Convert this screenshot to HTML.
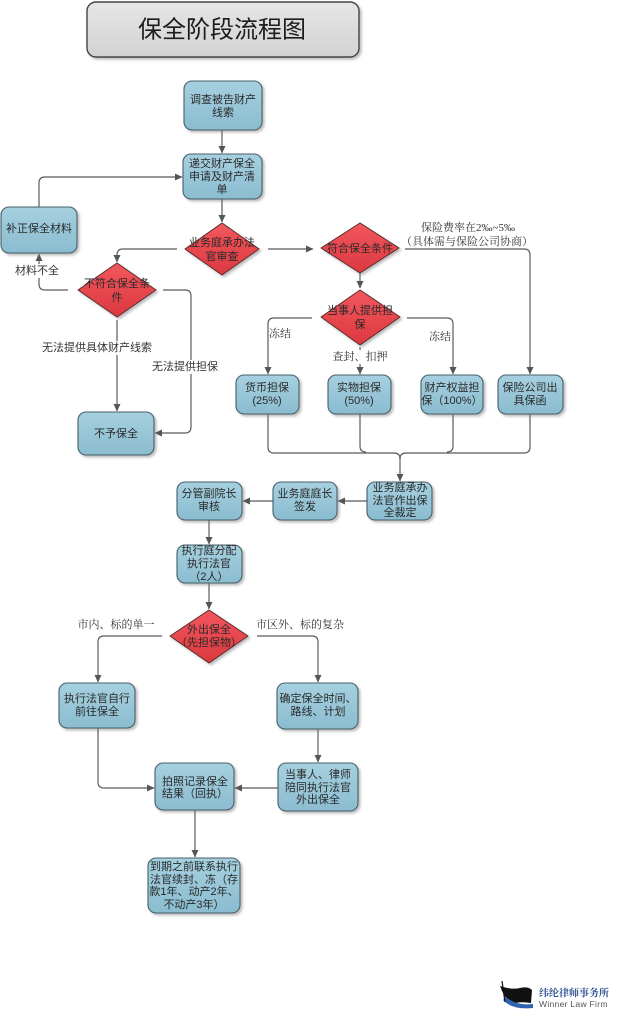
<!DOCTYPE html>
<html>
<head>
<meta charset="utf-8">
<style>
  html,body{margin:0;padding:0;background:#fff;}
  body{width:624px;height:1023px;overflow:hidden;}
  svg{display:block;}
  .t{font-family:"Liberation Sans","Noto Sans CJK SC",sans-serif;font-size:11px;fill:#2a2a2a;text-anchor:middle;dominant-baseline:central;}
  .ls{font-family:"Liberation Sans","Noto Sans CJK SC",sans-serif;font-size:11px;fill:#333;text-anchor:middle;dominant-baseline:central;}
  .lr{font-family:"Liberation Serif","Noto Serif CJK SC",serif;font-size:11px;fill:#333;text-anchor:middle;dominant-baseline:central;}
  .box{fill:url(#gb);stroke:#46606b;stroke-width:1.1;filter:url(#sh);}
  .dia{fill:url(#gr);stroke:#5a2a2a;stroke-width:1;stroke-linejoin:round;filter:url(#sh);}
  .c{fill:none;stroke:#5a5a5a;stroke-width:1.2;}
  .a{fill:none;stroke:#5a5a5a;stroke-width:1.2;marker-end:url(#ar);}
</style>
</head>
<body>
<svg width="624" height="1023" viewBox="0 0 624 1023" xmlns="http://www.w3.org/2000/svg">
  <defs>
    <linearGradient id="gb" x1="0" y1="0" x2="0" y2="1">
      <stop offset="0" stop-color="#a6d0e0"/>
      <stop offset="1" stop-color="#8abccf"/>
    </linearGradient>
    <linearGradient id="gr" x1="0" y1="0" x2="0" y2="1">
      <stop offset="0" stop-color="#f2585e"/>
      <stop offset="1" stop-color="#db383f"/>
    </linearGradient>
    <linearGradient id="gt" x1="0" y1="0" x2="0" y2="1">
      <stop offset="0" stop-color="#e6e6e6"/>
      <stop offset="1" stop-color="#d2d2d2"/>
    </linearGradient>
    <filter id="sh" x="-20%" y="-20%" width="150%" height="150%">
      <feDropShadow dx="2" dy="2" stdDeviation="1.2" flood-color="#7a7a7a" flood-opacity="0.5"/>
    </filter>
    <marker id="ar" markerWidth="8" markerHeight="8" refX="7" refY="4" orient="auto" markerUnits="userSpaceOnUse">
      <path d="M0,0.5 L7.5,4 L0,7.5 Z" fill="#555"/>
    </marker>
  </defs>

  <!-- Title -->
  <rect x="87" y="2" width="272" height="55" rx="9" fill="url(#gt)" stroke="#444" stroke-width="1.4" filter="url(#sh)"/>
  <text x="222" y="30" style="font-family:'Liberation Sans','Noto Sans CJK SC',sans-serif;font-size:24px;fill:#1c1c1c;text-anchor:middle;dominant-baseline:central;">保全阶段流程图</text>

  <!-- Connectors -->
  <path class="a" d="M222,130 V153"/>
  <path class="a" d="M39,207 V183 Q39,177 45,177 H182"/>
  <path class="a" d="M222,199 V222"/>
  <path class="a" d="M177,249 H123 Q117,249 117,255 V262"/>
  <path class="a" d="M68,290 H45 Q39,290 39,284 V254"/>
  <path class="a" d="M117,320 V411"/>
  <path class="a" d="M163,290 H185 Q191,290 191,296 V427 Q191,433 185,433 H155"/>
  <path class="a" d="M268,249 H313"/>
  <path class="a" d="M405,249 H524 Q530,249 530,255 V374"/>
  <path class="a" d="M360,273 V288"/>
  <path class="a" d="M312,318 H274 Q268,318 268,324 V374"/>
  <path class="a" d="M360,347 V374"/>
  <path class="a" d="M407,318 H447 Q453,318 453,324 V374"/>
  <!-- merge -->
  <path class="c" d="M268,414 V447 Q268,453 274,453 H394 Q400,453 400,459"/>
  <path class="c" d="M360,414 V446 Q360,452 366,452"/>
  <path class="c" d="M530,414 V447 Q530,453 524,453 H406 Q400,453 400,459"/>
  <path class="c" d="M453,414 V446 Q453,452 447,452"/>
  <path class="a" d="M400,458 V481"/>
  <path class="a" d="M367,501 H338"/>
  <path class="a" d="M273,501 H243"/>
  <path class="a" d="M209,520 V544"/>
  <path class="a" d="M209,583 V609"/>
  <path class="a" d="M162,636 H104 Q98,636 98,642 V682"/>
  <path class="a" d="M257,636 H312 Q318,636 318,642 V682"/>
  <path class="a" d="M318,729 V762"/>
  <path class="a" d="M278,788 H235"/>
  <path class="a" d="M98,728 V782 Q98,788 104,788 H154"/>
  <path class="a" d="M195,810 V857"/>

  <!-- Boxes -->
  <rect class="box" x="184" y="81" width="78" height="49" rx="8"/>
  <text class="t" x="223" y="100">调查被告财产</text>
  <text class="t" x="223" y="113">线索</text>

  <rect class="box" x="183" y="154" width="79" height="45" rx="8"/>
  <text class="t" x="222" y="164">递交财产保全</text>
  <text class="t" x="222" y="177">申请及财产清</text>
  <text class="t" x="222" y="190">单</text>

  <rect class="box" x="1" y="207" width="76" height="46" rx="8"/>
  <text class="t" x="39" y="229">补正保全材料</text>

  <rect class="box" x="78" y="412" width="76" height="43" rx="8"/>
  <text class="t" x="116" y="434">不予保全</text>

  <rect class="box" x="236" y="375" width="63" height="39" rx="8"/>
  <text class="t" x="267" y="388">货币担保</text>
  <text class="t" x="267" y="401">(25%)</text>

  <rect class="box" x="328" y="375" width="63" height="39" rx="8"/>
  <text class="t" x="359" y="388">实物担保</text>
  <text class="t" x="359" y="401">(50%)</text>

  <rect class="box" x="421" y="375" width="62" height="39" rx="8"/>
  <text class="t" x="452" y="388">财产权益担</text>
  <text class="t" x="452" y="401">保（100%）</text>

  <rect class="box" x="498" y="375" width="65" height="39" rx="8"/>
  <text class="t" x="530" y="388">保险公司出</text>
  <text class="t" x="530" y="401">具保函</text>

  <rect class="box" x="367" y="482" width="65" height="38" rx="8"/>
  <text class="t" x="400" y="488">业务庭承办</text>
  <text class="t" x="400" y="501">法官作出保</text>
  <text class="t" x="400" y="513">全裁定</text>

  <rect class="box" x="273" y="482" width="64" height="38" rx="8"/>
  <text class="t" x="305" y="494">业务庭庭长</text>
  <text class="t" x="305" y="507">签发</text>

  <rect class="box" x="177" y="482" width="65" height="38" rx="8"/>
  <text class="t" x="209" y="494">分管副院长</text>
  <text class="t" x="209" y="507">审核</text>

  <rect class="box" x="177" y="545" width="65" height="38" rx="8"/>
  <text class="t" x="209" y="551">执行庭分配</text>
  <text class="t" x="209" y="564">执行法官</text>
  <text class="t" x="209" y="577">（2人）</text>

  <rect class="box" x="59" y="683" width="76" height="45" rx="8"/>
  <text class="t" x="97" y="699">执行法官自行</text>
  <text class="t" x="97" y="712">前往保全</text>

  <rect class="box" x="277" y="683" width="81" height="46" rx="8"/>
  <text class="t" x="318" y="699">确定保全时间、</text>
  <text class="t" x="318" y="712">路线、计划</text>

  <rect class="box" x="278" y="763" width="80" height="48" rx="8"/>
  <text class="t" x="318" y="775">当事人、律师</text>
  <text class="t" x="318" y="788">陪同执行法官</text>
  <text class="t" x="318" y="800">外出保全</text>

  <rect class="box" x="155" y="763" width="79" height="47" rx="8"/>
  <text class="t" x="195" y="782">拍照记录保全</text>
  <text class="t" x="195" y="794">结果（回执）</text>

  <rect class="box" x="148" y="858" width="92" height="55" rx="8"/>
  <text class="t" x="194" y="867">到期之前联系执行</text>
  <text class="t" x="194" y="880">法官续封、冻（存</text>
  <text class="t" x="194" y="892">款1年、动产2年、</text>
  <text class="t" x="194" y="905">不动产3年）</text>

  <!-- Diamonds -->
  <polygon class="dia" points="222,223 259,249 222,275 185,249"/>
  <text class="t" x="222" y="243">业务庭承办法</text>
  <text class="t" x="222" y="257">官审查</text>

  <polygon class="dia" points="117,263 156,290 117,317 78,290"/>
  <text class="t" x="117" y="284">不符合保全条</text>
  <text class="t" x="117" y="298">件</text>

  <polygon class="dia" points="360,223 399,248 360,273 321,248"/>
  <text class="t" x="360" y="249">符合保全条件</text>

  <polygon class="dia" points="360,290 400,317 360,345 321,317"/>
  <text class="t" x="360" y="311">当事人提供担</text>
  <text class="t" x="360" y="325">保</text>

  <polygon class="dia" points="209,610 248,636 209,663 170,636"/>
  <text class="t" x="209" y="630">外出保全</text>
  <text class="t" x="209" y="643">（先担保物）</text>

  <!-- Labels -->
  <rect x="14" y="264" width="46" height="14" fill="#fff"/>
  <text class="ls" x="37" y="271">材料不全</text>
  <rect x="42" y="341" width="110" height="14" fill="#fff"/>
  <text class="ls" x="97" y="348">无法提供具体财产线索</text>
  <rect x="152" y="360" width="66" height="14" fill="#fff"/>
  <text class="ls" x="185" y="367">无法提供担保</text>
  <text class="lr" x="468" y="228">保险费率在2‰~5‰</text>
  <text class="lr" x="467" y="242">（具体需与保险公司协商）</text>
  <text class="lr" x="280" y="334">冻结</text>
  <rect x="332" y="350" width="56" height="14" fill="#fff"/>
  <text class="lr" x="360" y="357">查封、扣押</text>
  <text class="lr" x="440" y="337">冻结</text>
  <text class="lr" x="116" y="625">市内、标的单一</text>
  <text class="lr" x="300" y="625">市区外、标的复杂</text>

  <!-- Logo -->
  <g>
    <path d="M500,986 Q512,990 520,988 Q528,986 532,990 L531,1003 Q520,1001 512,1004 Q505,1000 500,986 Z" fill="#111"/>
    <path d="M503,1000 Q512,1010 533,1008 L533,1004 Q516,1006 506,997 Z" fill="#2f63b0"/>
    <line x1="502" y1="981" x2="505" y2="1002" stroke="#111" stroke-width="1.2"/>
    <text x="539" y="994" style="font-family:'Liberation Serif','Noto Serif CJK SC',serif;font-size:10px;font-weight:bold;fill:#2b4f8e;dominant-baseline:central;">纬纶律师事务所</text>
    <text x="539" y="1004" style="font-family:'Liberation Sans',sans-serif;font-size:8.5px;fill:#555;dominant-baseline:central;letter-spacing:0.3px;">Winner Law Firm</text>
  </g>
</svg>
</body>
</html>
